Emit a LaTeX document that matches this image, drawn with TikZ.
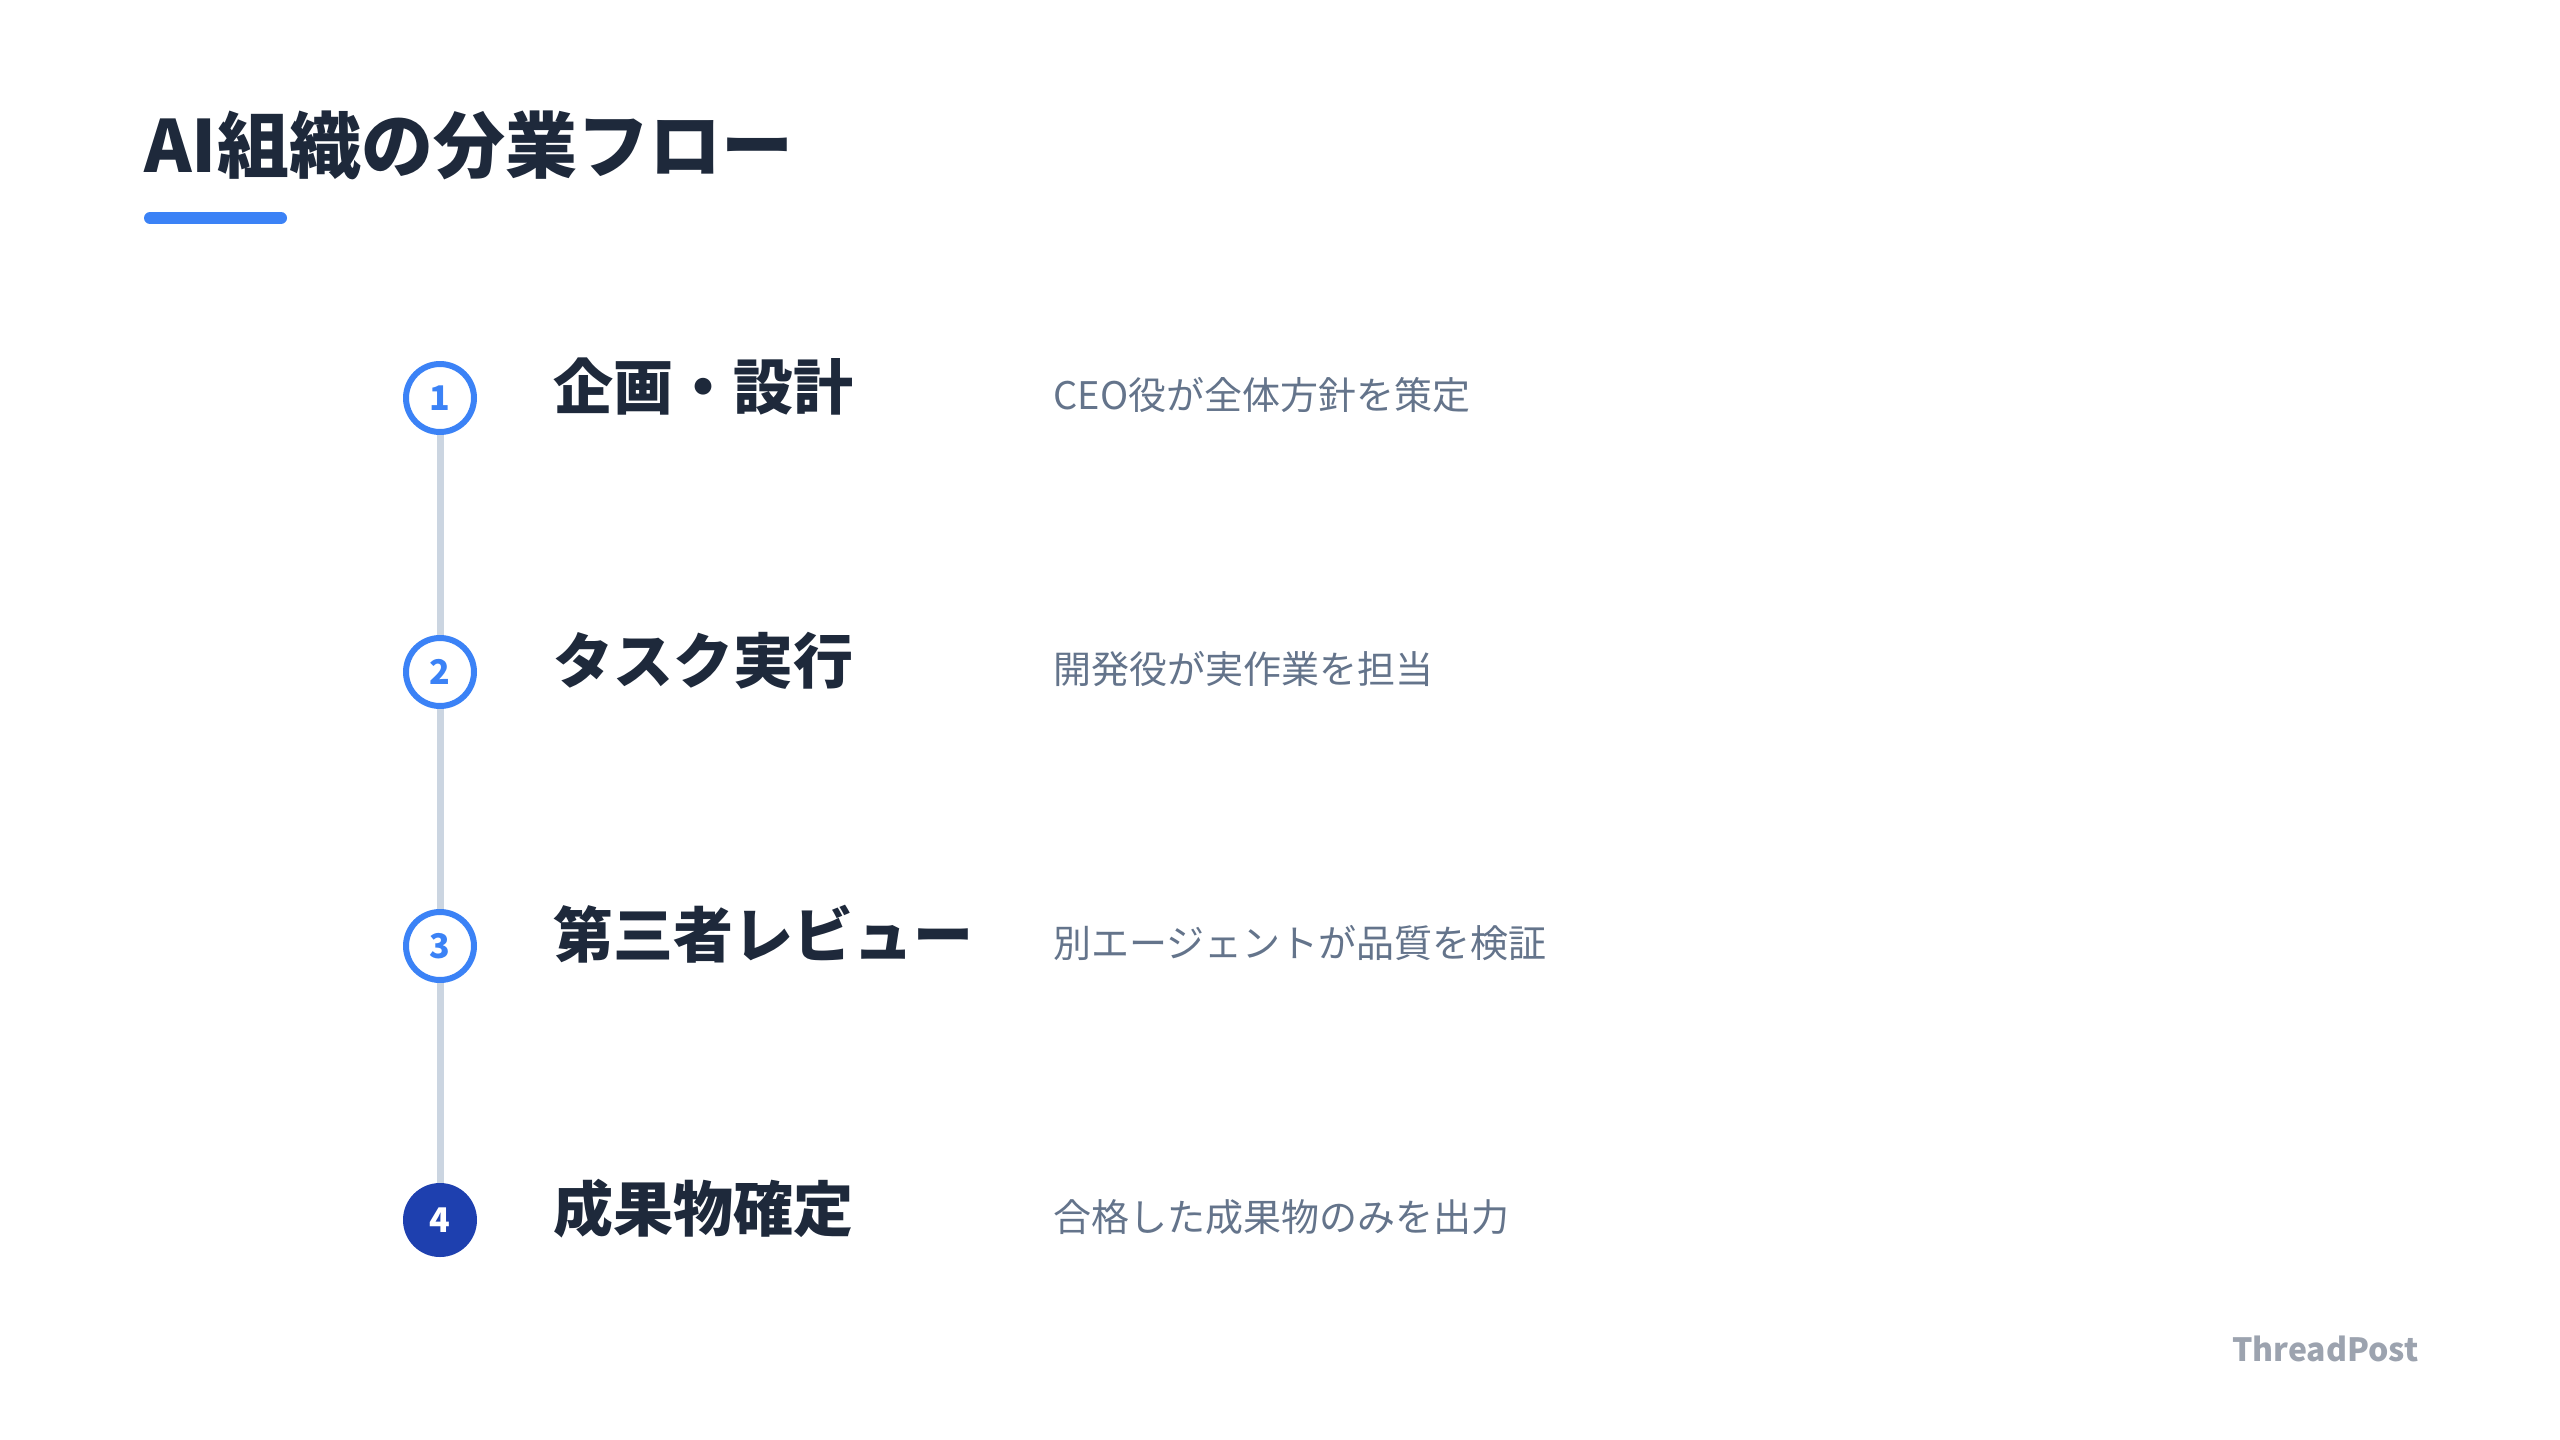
\documentclass[tikz,border=0pt]{standalone}
\usepackage{fontspec}
\setmainfont{Noto Sans CJK JP}
\definecolor{titlecol}{HTML}{1E293B}
\definecolor{desccol}{HTML}{64748B}
\definecolor{brandcol}{HTML}{9CA3AF}
\definecolor{accent}{HTML}{3B82F6}
\definecolor{darkaccent}{HTML}{1E40AF}
\definecolor{linecol}{HTML}{CBD5E1}
\begin{document}
\begin{tikzpicture}[x=0.5pt,y=-0.5pt,
  stepcircle/.style={circle, draw=accent, line width=3pt, fill=white, minimum size=34pt, inner sep=0pt,
    text=accent, font=\fontsize{17}{19}\selectfont\bfseries},
  stepcirclefinal/.style={circle, draw=darkaccent, line width=3pt, fill=darkaccent, minimum size=34pt, inner sep=0pt,
    text=white, font=\fontsize{17}{19}\selectfont\bfseries},
  steptitle/.style={anchor=base west, inner sep=0pt, text=titlecol, font=\fontsize{30}{34}\selectfont\bfseries},
  stepdesc/.style={anchor=base west, inner sep=0pt, text=desccol, font=\fontsize{19}{22}\selectfont},
  connector/.style={draw=linecol, line width=3.5pt}
]
\fill[white] (0,0) rectangle (2560,1440);
\path[use as bounding box] (0,0) rectangle (2560,1440);

% title
\node[anchor=base west, inner sep=0pt, text=titlecol, font=\fontsize{36}{40}\selectfont\bfseries] (title) at (144,172) {AI組織の分業フロー};
\draw[accent, line width=6pt, line cap=round] (150,218) -- (281,218);

% circles
\node[stepcircle] (c1) at (440,398) {1};
\node[stepcircle] (c2) at (440,672) {2};
\node[stepcircle] (c3) at (440,946) {3};
\node[stepcirclefinal] (c4) at (440,1220) {4};

% connectors
\draw[connector] (c1.south) -- (c2.north);
\draw[connector] (c2.south) -- (c3.north);
\draw[connector] (c3.south) -- (c4.north);

% step titles
\node[steptitle] (t1) at (553,409) {企画・設計};
\node[steptitle] (t2) at (553,683) {タスク実行};
\node[steptitle] (t3) at (553,957) {第三者レビュー};
\node[steptitle] (t4) at (553,1231) {成果物確定};

% descriptions
\node[stepdesc] (d1) at (1053,409) {CEO役が全体方針を策定};
\node[stepdesc] (d2) at (1053,683) {開発役が実作業を担当};
\node[stepdesc] (d3) at (1053,957) {別エージェントが品質を検証};
\node[stepdesc] (d4) at (1053,1231) {合格した成果物のみを出力};

% brand
\node[anchor=base east, inner sep=0pt, text=brandcol, font=\fontsize{16}{18}\selectfont\bfseries] (brand) at (2419,1361) {ThreadPost};
\end{tikzpicture}
\end{document}
